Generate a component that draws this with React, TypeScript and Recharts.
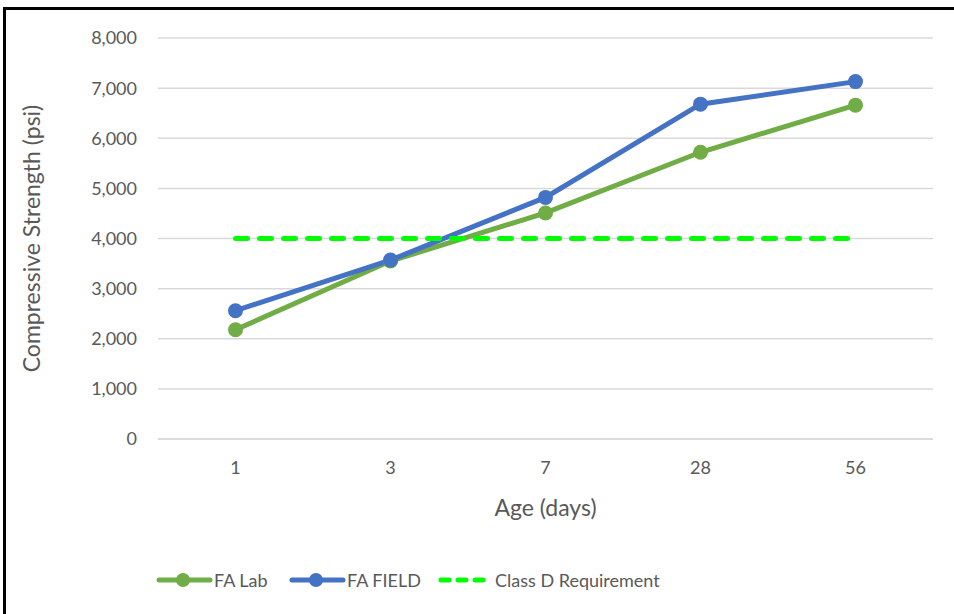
import { LineChart, Line, XAxis, YAxis, CartesianGrid } from "recharts";

const ages = ["1", "3", "7", "28", "56"];
const faLab = [2180, 3550, 4510, 5720, 6660];
const faField = [2560, 3570, 4820, 6680, 7130];
const classD = [4000, 4000, 4000, 4000, 4000];
const yTicks = [0, 1000, 2000, 3000, 4000, 5000, 6000, 7000, 8000];

const series = [
  { key: "lab", name: "FA Lab", color: "#70AD47", dashed: false, x: 155 },
  { key: "field", name: "FA FIELD", color: "#4472C4", dashed: false, x: 288 },
  { key: "req", name: "Class D Requirement", color: "#00FF00", dashed: true, x: 436 },
];

const data = ages.map((age, i) => ({
  age,
  lab: faLab[i],
  field: faField[i],
  req: classD[i],
}));

const FONT = "Lato, 'Open Sans', sans-serif";
const TEXT = "#595959";

// legend drawn by hand, placed under the chart like the excel one
const LegendRow = () => (
  <>
    {series.map((s) => (
      <div
        key={s.key}
        style={{
          position: "absolute",
          left: s.x,
          top: 569,
          height: 22,
          display: "flex",
          alignItems: "center",
          fontFamily: FONT,
          fontSize: 18,
          color: TEXT,
          whiteSpace: "nowrap",
        }}
      >
        <svg width={58} height={16}>
          {s.dashed ? (
            <line x1={5} y1={8} x2={50} y2={8} stroke={s.color} strokeWidth={5} strokeDasharray="8 9" strokeLinecap="round" />
          ) : (
            <>
              <line x1={4} y1={8} x2={55} y2={8} stroke={s.color} strokeWidth={5} strokeLinecap="round" />
              <circle cx={28} cy={8} r={7} fill={s.color} />
            </>
          )}
        </svg>
        <span style={{ marginLeft: s.dashed ? 1 : 1 }}>{s.name}</span>
      </div>
    ))}
  </>
);

const App = () => {
  return (
    <div style={{ position: "absolute", left: 0, top: 0, width: 954, height: 614, background: "#fff", overflow: "hidden" }}>
      <div
        style={{
          position: "absolute",
          left: 3,
          top: 7,
          width: 951,
          height: 607,
          borderTop: "3px solid #000",
          borderLeft: "3px solid #000",
          boxSizing: "border-box",
        }}
      />
      <LineChart
        width={954}
        height={614}
        data={data}
        margin={{ top: 38, right: 21, bottom: 145, left: 98 }}
        style={{ position: "absolute", left: 0, top: 0 }}
      >
        <CartesianGrid vertical={false} stroke="#D9D9D9" strokeWidth={1.5} />
        <XAxis
          dataKey="age"
          height={30}
          padding={{ left: 77.5, right: 77.5 }}
          axisLine={{ stroke: "#D9D9D9", strokeWidth: 1.5 }}
          tickLine={false}
          tickSize={0}
          tickMargin={22}
          tick={{ fill: TEXT, fontSize: 18, fontFamily: FONT }}
          label={{ value: "Age (days)", position: "insideBottom", offset: -47, fill: TEXT, fontSize: 23, fontFamily: FONT }}
        />
        <YAxis
          width={60}
          domain={[0, 8000]}
          ticks={yTicks}
          axisLine={false}
          tickLine={false}
          tickSize={0}
          tickMargin={21}
          tickFormatter={(v: number) => v.toLocaleString("en-US")}
          tick={{ fill: TEXT, fontSize: 18, fontFamily: FONT }}
          label={{
            value: "Compressive Strength (psi)",
            angle: -90,
            position: "insideLeft",
            offset: -66,
            style: { textAnchor: "middle" },
            fill: TEXT,
            fontSize: 23,
            fontFamily: FONT,
          }}
        />
        {series.map((s) => (
          <Line
            key={s.key}
            dataKey={s.key}
            name={s.name}
            stroke={s.color}
            strokeWidth={5}
            strokeDasharray={s.dashed ? "12 12" : undefined}
            strokeLinecap={s.dashed ? "round" : "butt"}
            dot={s.dashed ? false : { r: 7.5, fill: s.color, stroke: s.color, strokeWidth: 0 }}
            activeDot={false}
            isAnimationActive={false}
          />
        ))}
      </LineChart>
      <LegendRow />
    </div>
  );
};

export default App;
